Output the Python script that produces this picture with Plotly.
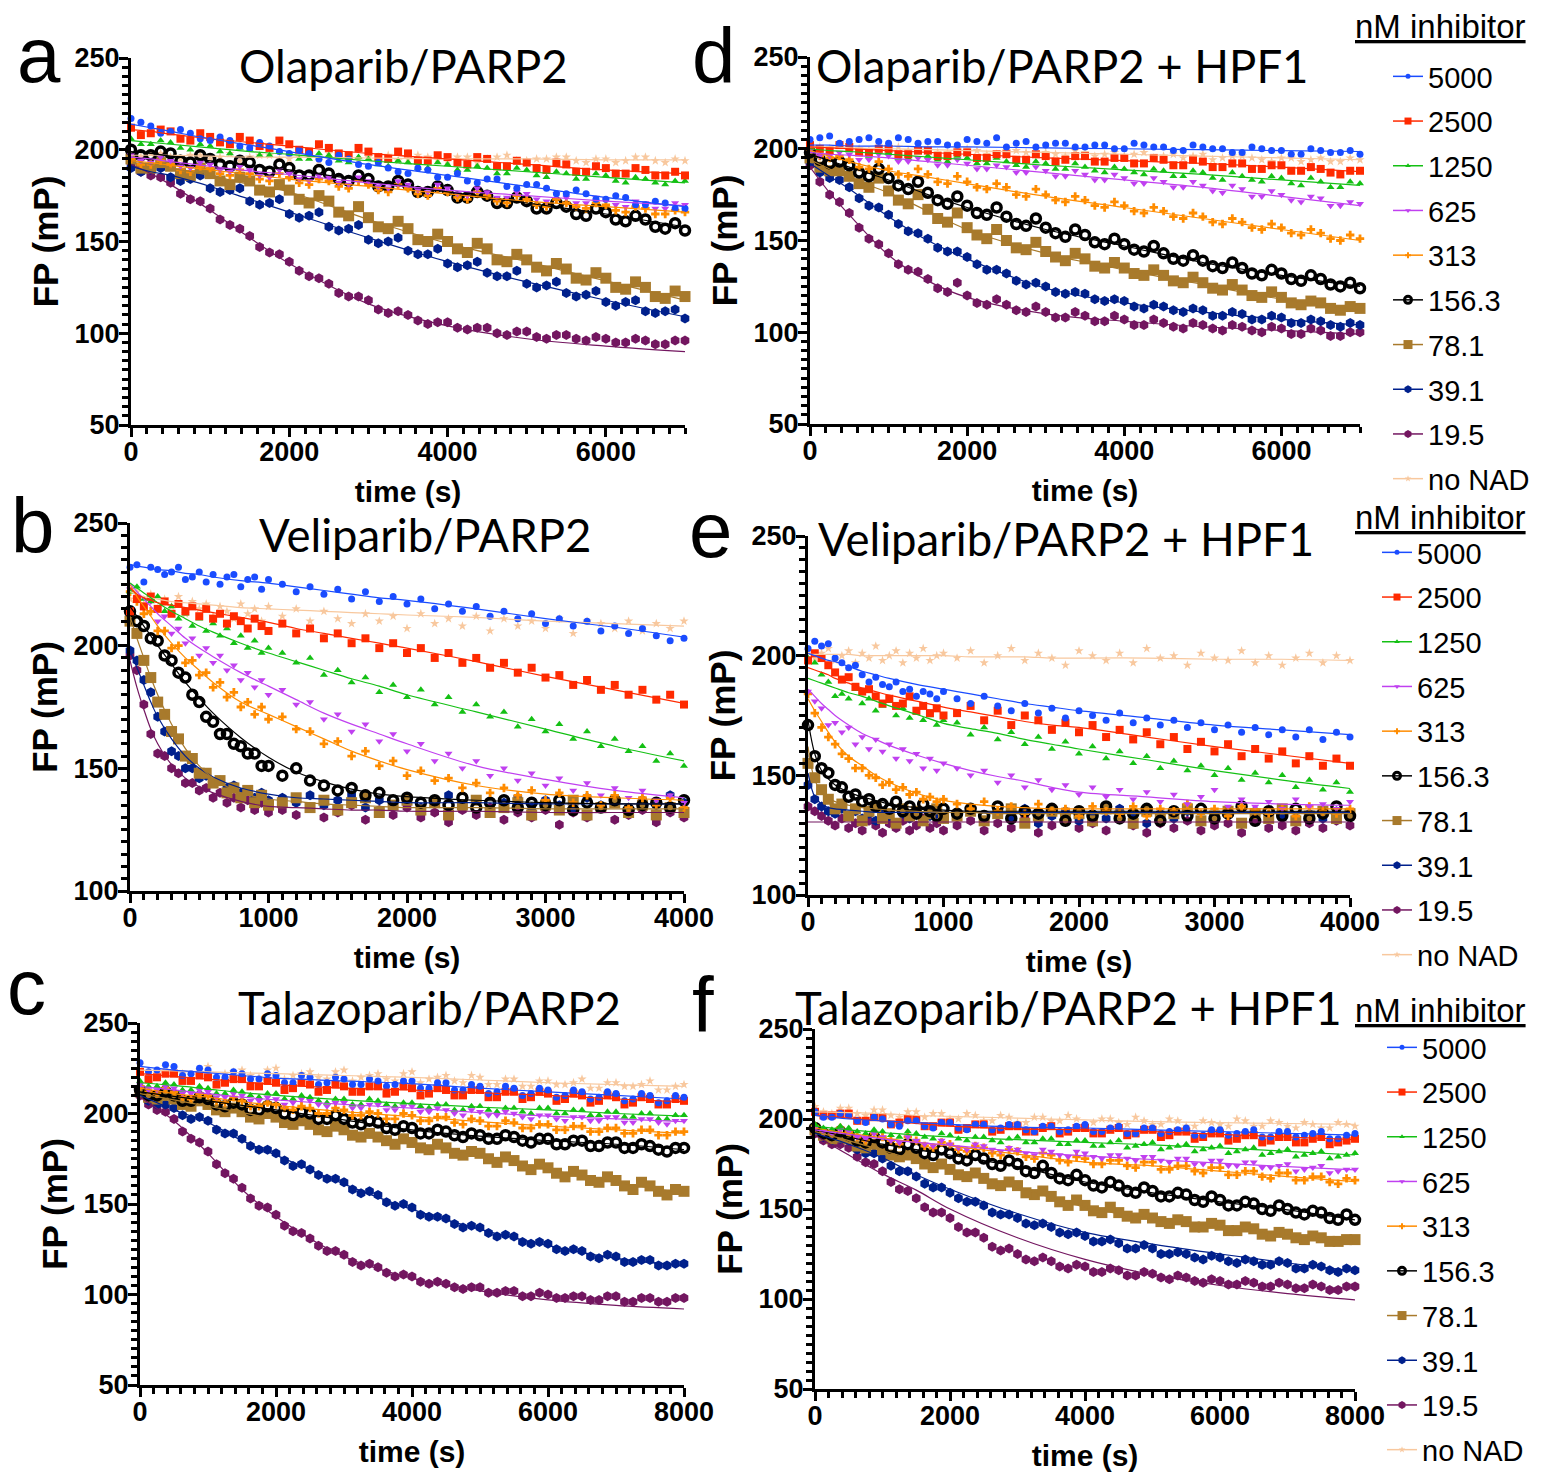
import plotly.graph_objects as go

# page is drawn with an 8 px body margin; keep the figure inside the window
OFF = 8
W, H = 1551 - OFF, 1479 - OFF

labels = ["5000", "2500", "1250", "625", "313", "156.3", "78.1", "39.1", "19.5", "no NAD"]

# sampling times (s)
t_ad = [0, 250, 500, 750, 1000, 1250, 1500, 1750, 2000, 2250, 2500, 2750, 3000, 3250, 3500,
        3750, 4000, 4250, 4500, 4750, 5000, 5250, 5500, 5750, 6000, 6250, 6500, 6750, 7000]
t_ad_mid = [125, 375, 625, 875, 1125, 1375, 1625, 1875, 2125, 2375, 2625, 2875, 3125, 3375,
            3625, 3875, 4125, 4375, 4625, 4875, 5125, 5375, 5625, 5875, 6125, 6375, 6625, 6875]
t_be = [0, 50, 100, 150, 200, 250, 300, 350, 400, 450, 500, 550, 600, 650, 700, 750, 800, 850,
        900, 950, 1000, 1100, 1200, 1300, 1400, 1500, 1600, 1700, 1800, 1900, 2000, 2100, 2200,
        2300, 2400, 2500, 2600, 2700, 2800, 2900, 3000, 3100, 3200, 3300, 3400, 3500, 3600, 3700,
        3800, 3900, 4000]
t_cf = [0, 250, 500, 750, 1000, 1250, 1500, 1750, 2000, 2250, 2500, 2750, 3000, 3250, 3500,
        3750, 4000, 4250, 4500, 4750, 5000, 5250, 5500, 5750, 6000, 6250, 6500, 6750, 7000,
        7250, 7500, 7750, 8000]
t_cf_mid = [125, 375, 625, 875, 1125, 1375, 1625, 1875, 2125, 2375, 2625, 2875, 3125, 3375,
            3625, 3875, 4125, 4375, 4625, 4875, 5125, 5375, 5625, 5875, 6125, 6375, 6625, 6875,
            7125, 7375, 7625, 7875]
tf_ad = [0, 250, 500, 1000, 1500, 2000, 3000, 4000, 5000, 6000, 7000]
tf_be = [0, 50, 100, 150, 200, 300, 400, 500, 600, 800, 1000, 1200, 1400, 1600, 1800, 2000,
         2500, 3000, 3500, 4000]
tf_cf = [0, 500, 1000, 1500, 2000, 3000, 4000, 5000, 6000, 7000, 8000]

# a  Olaparib/PARP2
pts_a = {
    "5000": [217, 213, 210, 209, 205, 205, 201, 202, 198, 198, 193, 195, 191, 190, 187, 189, 185, 183, 184, 180, 181, 179, 176, 176, 173, 174, 170, 171, 168],
    "2500": [212, 209, 210, 205, 207, 203, 205, 201, 203, 199, 201, 197, 199, 195, 198, 194, 196, 192, 195, 191, 193, 189, 192, 188, 190, 187, 189, 186, 186],
    "1250": [206, 203, 204, 200, 202, 198, 200, 197, 198, 195, 197, 193, 195, 191, 193, 190, 192, 189, 190, 187, 189, 185, 187, 184, 186, 182, 184, 181, 183],
    "625": [197, 193, 194, 190, 192, 188, 189, 185, 187, 183, 185, 181, 183, 179, 181, 177, 179, 175, 177, 174, 176, 172, 174, 171, 173, 169, 171, 168, 170],
    "313": [195, 192, 192, 188, 190, 186, 187, 183, 185, 181, 183, 179, 181, 177, 179, 175, 177, 173, 175, 171, 173, 169, 171, 168, 170, 166, 168, 165, 166],
    "156.3": [200, 197, 198, 193, 195, 191, 193, 188, 190, 186, 187, 183, 184, 180, 181, 177, 178, 174, 175, 171, 172, 168, 169, 164, 166, 161, 162, 157, 156],
    "78.1": [195, 190, 191, 186, 187, 181, 183, 177, 178, 171, 172, 164, 163, 157, 157, 150, 150, 144, 146, 139, 140, 134, 135, 129, 130, 124, 125, 119, 120],
    "39.1": [190, 189, 185, 184, 179, 178, 172, 171, 165, 164, 158, 157, 151, 150, 145, 143, 138, 137, 133, 131, 127, 126, 122, 121, 117, 117, 112, 112, 108],
    "19.5": [193, 186, 182, 173, 168, 159, 153, 144, 139, 131, 127, 120, 118, 111, 110, 105, 106, 102, 103, 99, 101, 97, 99, 96, 97, 95, 96, 94, 96],
    "no NAD": [197, 198, 196, 197, 195, 198, 196, 197, 195, 196, 198, 195, 196, 197, 195, 196, 194, 196, 195, 197, 194, 195, 196, 193, 195, 194, 196, 193, 194],
}
mid_a = {
    "5000": [215, 209, 211, 206, 207, 202, 204, 199, 200, 195, 197, 192, 193, 188, 190, 185, 187, 182, 184, 179, 181, 176, 178, 173, 175, 170, 172, 168],
    "2500": [208, 211, 206, 209, 204, 207, 202, 205, 200, 203, 198, 201, 196, 199, 194, 197, 193, 196, 191, 194, 190, 193, 188, 191, 187, 190, 186, 188],
    "1250": [203, 205, 201, 203, 199, 201, 197, 199, 195, 198, 194, 196, 192, 194, 190, 193, 189, 191, 187, 190, 186, 188, 184, 187, 183, 185, 182, 183],
    "625": [194, 196, 191, 193, 189, 191, 186, 189, 184, 186, 182, 185, 180, 183, 178, 181, 176, 179, 174, 177, 173, 176, 171, 174, 170, 172, 168, 171],
    "313": [192, 194, 189, 191, 187, 189, 184, 187, 182, 184, 180, 183, 178, 181, 176, 179, 174, 177, 172, 175, 170, 173, 169, 171, 167, 169, 165, 167],
    "156.3": [197, 199, 194, 197, 192, 194, 189, 192, 186, 189, 184, 186, 180, 183, 177, 180, 174, 177, 171, 174, 168, 171, 165, 168, 162, 164, 158, 160],
    "78.1": [190, 193, 187, 190, 183, 185, 178, 181, 173, 175, 166, 169, 158, 161, 151, 154, 146, 149, 140, 143, 136, 138, 130, 133, 125, 128, 120, 123],
    "39.1": [188, 190, 183, 186, 177, 179, 170, 173, 163, 166, 156, 159, 149, 152, 143, 146, 136, 139, 131, 134, 125, 128, 120, 123, 115, 118, 111, 113],
    "19.5": [188, 185, 176, 172, 162, 157, 147, 143, 134, 130, 122, 120, 113, 112, 107, 106, 103, 103, 100, 101, 98, 99, 97, 98, 95, 97, 94, 96],
    "no NAD": [196, 198, 195, 197, 196, 194, 197, 195, 196, 194, 197, 195, 196, 194, 197, 195, 196, 193, 196, 194, 195, 196, 194, 195, 193, 196, 194, 195],
}
fit_a = {
    "5000": [214, 212, 210, 206, 202.5, 199, 192, 186, 180, 174, 169],
    "2500": [211, 210, 208.5, 206, 204, 202, 198, 195, 192, 189, 187],
    "1250": [205, 204, 203, 201, 199, 197.5, 194, 191, 188, 185, 182],
    "625": [196, 195, 193.5, 191, 188.5, 186.5, 182, 178, 175, 172, 169.5],
    "313": [194, 193, 191.5, 189, 186.5, 184, 180, 176, 172, 169, 166],
    "156.3": [199, 198, 196.5, 194, 191.5, 189, 183, 177, 171, 165, 158],
    "78.1": [194, 192, 190, 186, 181, 177, 162, 149, 139, 128.5, 118],
    "39.1": [191, 188, 186, 180, 173, 166, 152, 139, 128, 118, 109],
    "19.5": [192, 187, 181, 167, 152, 138, 116, 104, 97, 93, 90],
    "no NAD": [197, 197, 197, 196.5, 196, 196, 195.5, 195, 195, 194.5, 194.5],
}

# b  Veliparib/PARP2
pts_b = {
    "5000": [232, 233, 226, 232, 231, 229, 230, 232, 227, 228, 230, 226, 229, 225, 228, 229, 224, 227, 228, 223, 227,
             225, 222, 224, 221, 223, 219, 222, 218, 220, 217, 219, 215, 217, 214, 216, 212, 214, 211, 213, 209, 211, 208, 210, 206, 208, 205, 207, 204, 202, 203],
    "2500": [214, 219, 216, 220, 215, 218, 213, 217, 214, 216, 212, 215, 211, 213, 209, 212, 210, 207, 211, 208, 206,
             209, 205, 207, 203, 205, 201, 203, 199, 201, 197, 199, 195, 197, 193, 195, 191, 193, 189, 191, 187, 188, 184, 186, 182, 184, 180, 182, 178, 180, 176],
    "1250": [222, 224, 219, 218, 220, 214, 216, 211, 213, 208, 211, 206, 209, 204, 207, 201, 204, 199, 202, 197, 199,
             197, 193, 195, 188, 190, 185, 187, 181, 184, 179, 182, 176, 179, 173, 176, 171, 173, 167, 170, 165, 168, 162, 165, 159, 162, 157, 159, 153, 156, 151],
    "625": [223, 220, 216, 218, 210, 212, 205, 207, 201, 203, 196, 199, 193, 196, 190, 192, 186, 189, 183, 186, 180,
            182, 176, 177, 170, 172, 165, 168, 161, 164, 157, 160, 153, 156, 150, 153, 147, 150, 145, 148, 143, 146, 141, 144, 139, 142, 138, 141, 137, 139, 136],
    "313": [222, 218, 213, 214, 206, 206, 199, 200, 193, 194, 188, 189, 183, 185, 179, 181, 175, 177, 172, 175, 170,
            171, 166, 165, 160, 161, 155, 157, 151, 153, 147, 149, 145, 146, 142, 144, 140, 142, 139, 141, 137, 140, 136, 139, 135, 139, 134, 138, 135, 138, 134],
    "156.3": [214, 210, 208, 203, 202, 196, 194, 189, 187, 180, 177, 171, 169, 164, 164, 160, 159, 156, 156, 151, 151,
              147, 150, 145, 143, 141, 142, 139, 140, 137, 138, 136, 137, 135, 138, 134, 136, 137, 134, 136, 135, 137, 133, 136, 134, 137, 133, 135, 136, 134, 137],
    "78.1": [210, 205, 194, 187, 177, 172, 165, 162, 155, 154, 148, 148, 144, 145, 140, 142, 138, 141, 136, 139, 135,
             136, 138, 134, 137, 133, 136, 138, 132, 135, 137, 133, 136, 131, 135, 137, 132, 134, 136, 131, 135, 133, 137, 131, 134, 136, 132, 135, 131, 134, 132],
    "39.1": [198, 194, 186, 181, 171, 165, 157, 155, 150, 150, 146, 147, 144, 145, 142, 143, 140, 141, 138, 140, 137,
             138, 136, 139, 135, 137, 139, 134, 137, 135, 138, 134, 136, 139, 135, 137, 133, 136, 138, 134, 137, 135, 133, 138, 135, 136, 134, 137, 135, 139, 136],
    "19.5": [196, 190, 176, 164, 156, 155, 150, 148, 144, 144, 141, 142, 138, 140, 136, 138, 134, 137, 133, 136, 132,
             133, 131, 134, 130, 132, 135, 129, 133, 131, 134, 130, 132, 128, 133, 131, 134, 129, 132, 130, 133, 127, 132, 130, 134, 129, 131, 133, 128, 132, 130],
    "no NAD": [219, 222, 217, 221, 215, 219, 216, 220, 213, 218, 215, 217, 212, 216, 214, 211, 217, 213, 215, 210, 216,
               212, 215, 210, 214, 211, 209, 213, 210, 212, 207, 213, 209, 211, 208, 212, 206, 211, 208, 210, 207, 211, 205, 210, 209, 207, 210, 206, 209, 207, 210],
}
fit_b = {
    "5000": [233, 232.5, 232, 231.5, 231, 230.5, 229.5, 229, 228, 226.5, 225.5, 224, 222.5, 221, 219.5, 218.5, 215, 211, 207.5, 203.5],
    "2500": [223.5, 221, 219.5, 218.5, 217.5, 216.5, 215.5, 214.5, 213.5, 211.5, 209.5, 207, 205, 203, 201, 199, 193.5, 187.5, 182, 176.5],
    "1250": [225.5, 223.5, 221.5, 219.5, 217.5, 214, 211, 208, 205.5, 201, 197, 193.5, 190, 186.5, 183.5, 180, 173, 166, 159, 153],
    "625": [225.5, 222, 219, 216, 213, 208, 203, 199, 195.5, 189, 183.5, 178, 172.5, 168, 164, 160, 151, 145.5, 141, 138],
    "313": [225, 220, 216, 212, 208, 201, 195, 190, 185, 177, 172, 167, 162, 157, 153, 149.5, 143, 139.5, 138, 137],
    "156.3": [216, 212, 208, 204, 200, 192.5, 185, 178.5, 172.5, 162.5, 154.5, 148.5, 144.5, 141.5, 139.5, 138.5, 137, 136, 135.5, 135.5],
    "78.1": [212, 203, 195, 187, 180, 168, 158, 151, 146, 140, 137.5, 136.5, 135.5, 135, 134.5, 134, 134, 133.5, 133.5, 133.5],
    "39.1": [198, 191, 184, 177, 171, 162, 155, 150, 146.5, 142, 139.5, 138, 137.5, 137, 136.5, 136, 136, 135.5, 135.5, 135.5],
    "19.5": [194, 183, 174, 166, 160, 151.5, 146, 142.5, 140, 136.5, 134.5, 134, 133.5, 133, 133, 132.5, 132.5, 132, 132, 132],
    "no NAD": [222, 221, 220, 219.5, 219, 218, 217.5, 217, 216.5, 215.5, 215, 214.5, 214, 213.5, 213, 212.5, 211.5, 210, 209, 208],
}

# c  Talazoparib/PARP2
pts_c = {
    "5000": [228, 224, 226, 222, 224, 220, 222, 219, 221, 217, 220, 217, 219, 216, 218, 216, 218, 214, 217, 213, 215, 212, 214, 211, 213, 210, 212, 209, 211, 208, 210, 207, 209],
    "2500": [223, 220, 222, 218, 220, 217, 219, 215, 217, 214, 216, 213, 215, 212, 215, 212, 214, 211, 213, 210, 213, 209, 212, 209, 211, 208, 210, 207, 209, 206, 208, 205, 207],
    "1250": [218, 215, 216, 213, 214, 211, 212, 209, 211, 208, 209, 206, 208, 205, 207, 204, 206, 203, 205, 202, 204, 201, 203, 200, 203, 200, 202, 199, 201, 198, 200, 197, 199],
    "625": [216, 213, 214, 211, 212, 209, 210, 207, 208, 206, 207, 204, 206, 203, 205, 202, 204, 201, 202, 199, 201, 199, 200, 197, 199, 196, 198, 196, 198, 195, 197, 194, 196],
    "313": [215, 211, 212, 208, 210, 206, 207, 204, 205, 202, 203, 200, 202, 199, 200, 197, 199, 196, 198, 194, 196, 193, 195, 192, 194, 191, 193, 190, 192, 189, 191, 188, 190],
    "156.3": [213, 210, 210, 207, 208, 204, 205, 202, 203, 199, 200, 197, 197, 194, 195, 191, 192, 189, 190, 187, 188, 186, 187, 184, 186, 183, 185, 182, 184, 181, 182, 179, 181],
    "78.1": [212, 208, 208, 204, 205, 201, 201, 197, 198, 194, 194, 190, 191, 187, 187, 183, 184, 180, 181, 177, 178, 173, 174, 169, 170, 165, 166, 162, 163, 158, 160, 155, 157],
    "39.1": [211, 205, 203, 197, 196, 189, 186, 180, 178, 171, 169, 164, 162, 156, 155, 149, 148, 143, 142, 137, 137, 132, 132, 128, 128, 124, 124, 120, 121, 118, 119, 116, 117],
    "19.5": [210, 202, 197, 186, 179, 167, 159, 149, 144, 135, 131, 124, 122, 116, 115, 110, 110, 106, 106, 103, 104, 101, 102, 99, 100, 98, 99, 97, 99, 96, 98, 96, 98],
    "no NAD": [227, 222, 225, 221, 226, 222, 224, 220, 225, 221, 223, 219, 224, 220, 222, 218, 223, 219, 221, 217, 220, 216, 219, 215, 218, 216, 219, 214, 217, 215, 218, 213, 216],
}
mid_c = {
    "5000": [223, 227, 221, 225, 220, 223, 219, 222, 217, 221, 216, 220, 216, 219, 215, 218, 214, 217, 213, 216, 211, 215, 210, 214, 209, 213, 208, 212, 207, 211, 206, 210],
    "2500": [219, 222, 218, 221, 216, 219, 215, 218, 213, 217, 212, 216, 212, 215, 211, 215, 210, 214, 210, 213, 209, 212, 208, 212, 207, 211, 206, 210, 205, 209, 205, 208],
    "1250": [215, 217, 213, 215, 211, 213, 210, 211, 208, 210, 207, 208, 205, 208, 205, 206, 204, 205, 202, 204, 202, 203, 201, 203, 200, 202, 199, 201, 198, 200, 197, 199],
    "625": [213, 215, 211, 213, 209, 211, 207, 209, 205, 208, 205, 206, 203, 205, 202, 204, 201, 203, 200, 202, 199, 201, 198, 199, 197, 198, 196, 198, 195, 197, 195, 196],
    "313": [212, 214, 209, 211, 207, 209, 204, 206, 203, 204, 200, 203, 199, 201, 197, 200, 196, 198, 195, 197, 193, 196, 192, 194, 191, 193, 190, 192, 189, 191, 188, 190],
    "156.3": [210, 212, 207, 209, 205, 206, 202, 204, 200, 201, 197, 199, 195, 196, 192, 193, 189, 191, 188, 189, 186, 188, 185, 186, 183, 185, 182, 184, 181, 183, 180, 181],
    "78.1": [209, 210, 205, 207, 202, 203, 198, 200, 195, 196, 191, 193, 188, 189, 185, 186, 181, 183, 178, 179, 175, 176, 171, 172, 167, 168, 163, 165, 160, 162, 157, 158],
    "39.1": [207, 205, 199, 198, 191, 189, 182, 180, 174, 172, 166, 164, 158, 157, 151, 150, 144, 143, 139, 138, 134, 133, 129, 129, 125, 125, 121, 122, 118, 119, 116, 117],
    "19.5": [205, 201, 190, 184, 172, 164, 153, 148, 138, 134, 127, 124, 118, 117, 112, 111, 107, 107, 104, 104, 101, 102, 99, 101, 98, 99, 97, 99, 96, 98, 96, 98],
    "no NAD": [223, 226, 222, 224, 220, 223, 221, 224, 219, 222, 220, 223, 218, 221, 219, 222, 217, 220, 218, 221, 216, 219, 215, 218, 216, 217, 214, 217, 215, 216, 213, 215],
}
fit_c = {
    "5000": [226, 224, 222.5, 221, 219.5, 218, 216.5, 214, 212, 210, 208],
    "2500": [222, 220.5, 219, 217.5, 216, 214, 213, 211.5, 210, 208, 206.5],
    "1250": [217, 215.5, 213.5, 211.5, 210, 207.5, 205.5, 203.5, 202, 200, 198.5],
    "625": [215, 213, 211, 209, 207.5, 205, 203, 200.5, 198.5, 197, 195.5],
    "313": [214, 211, 209, 206.5, 204.5, 201, 198.3, 195.5, 193, 191, 189],
    "156.3": [212, 209.5, 207, 204.5, 202, 196.5, 191, 187.5, 185, 183, 180],
    "78.1": [211, 207.5, 204, 200.5, 197, 190, 183.5, 177, 169, 162, 156],
    "39.1": [210, 202, 195, 185, 177, 161, 147, 136, 127, 120, 116],
    "19.5": [209, 196, 178, 158, 143, 121, 109, 102, 97, 94, 92],
    "no NAD": [224, 223.5, 223, 222.5, 222, 221, 220, 218.5, 217, 216, 215],
}

# d  Olaparib/PARP2 + HPF1
pts_d = {
    "5000": [205, 207, 204, 206, 203, 205, 204, 202, 205, 203, 201, 204, 202, 203, 201, 202, 200, 202, 201, 199, 201, 200, 198, 200, 199, 197, 199, 198, 197],
    "2500": [202, 199, 201, 198, 200, 197, 199, 196, 198, 195, 197, 194, 196, 194, 196, 193, 195, 192, 194, 191, 193, 190, 192, 189, 191, 188, 189, 186, 188],
    "1250": [201, 198, 199, 196, 198, 195, 196, 193, 195, 192, 193, 190, 192, 189, 190, 187, 189, 186, 188, 185, 187, 183, 185, 182, 184, 180, 182, 179, 181],
    "625": [199, 196, 197, 194, 196, 193, 194, 191, 192, 189, 190, 187, 188, 185, 186, 183, 184, 181, 182, 179, 180, 176, 178, 174, 175, 171, 173, 169, 170],
    "313": [200, 195, 194, 189, 189, 185, 186, 181, 182, 178, 179, 174, 175, 171, 172, 168, 169, 165, 166, 162, 163, 159, 160, 156, 157, 153, 154, 150, 151],
    "156.3": [198, 192, 191, 185, 184, 178, 176, 170, 169, 164, 163, 158, 157, 152, 153, 148, 148, 144, 143, 139, 139, 135, 135, 131, 132, 128, 129, 125, 124],
    "78.1": [195, 188, 185, 179, 177, 170, 167, 160, 157, 151, 150, 145, 144, 139, 140, 135, 135, 131, 131, 127, 127, 123, 123, 119, 119, 115, 116, 112, 113],
    "39.1": [193, 184, 179, 169, 164, 155, 151, 144, 141, 134, 132, 126, 125, 121, 121, 117, 117, 113, 114, 111, 112, 109, 110, 107, 108, 105, 106, 103, 104],
    "19.5": [191, 175, 165, 151, 143, 134, 129, 122, 120, 115, 115, 111, 111, 108, 109, 106, 107, 104, 105, 102, 104, 101, 103, 100, 102, 99, 101, 98, 100],
    "no NAD": [202, 200, 201, 199, 201, 199, 200, 198, 200, 197, 199, 198, 198, 196, 198, 197, 196, 198, 196, 195, 197, 195, 196, 194, 195, 193, 195, 193, 194],
}
mid_d = {
    "5000": [206, 203, 205, 204, 206, 203, 204, 202, 204, 206, 203, 201, 203, 201, 202, 200, 203, 201, 199, 202, 200, 198, 201, 199, 197, 200, 198, 199],
    "2500": [200, 202, 198, 200, 197, 199, 196, 198, 195, 197, 194, 197, 193, 196, 193, 195, 192, 195, 191, 194, 190, 192, 189, 191, 188, 190, 187, 188],
    "1250": [199, 201, 197, 199, 195, 198, 194, 196, 192, 195, 191, 193, 189, 192, 188, 190, 187, 189, 185, 188, 184, 187, 183, 185, 181, 184, 179, 182],
    "625": [196, 198, 194, 197, 193, 195, 191, 194, 189, 191, 187, 190, 185, 188, 183, 186, 181, 184, 179, 182, 177, 180, 174, 177, 172, 174, 169, 171],
    "313": [196, 196, 190, 193, 186, 189, 182, 185, 179, 181, 175, 178, 172, 174, 169, 171, 166, 168, 163, 165, 160, 162, 157, 159, 154, 156, 151, 153],
    "156.3": [194, 193, 187, 189, 180, 182, 172, 174, 165, 168, 159, 162, 154, 156, 149, 151, 145, 147, 140, 142, 136, 138, 132, 134, 129, 131, 126, 127],
    "78.1": [190, 188, 181, 184, 172, 175, 162, 165, 153, 156, 146, 149, 141, 143, 136, 138, 132, 134, 128, 130, 124, 126, 120, 122, 116, 117, 113, 114],
    "39.1": [187, 183, 173, 168, 159, 154, 146, 144, 137, 134, 128, 127, 122, 122, 118, 118, 114, 115, 112, 113, 109, 111, 107, 109, 105, 107, 104, 105],
    "19.5": [182, 171, 157, 148, 137, 133, 124, 127, 116, 118, 112, 114, 108, 111, 106, 109, 104, 107, 103, 105, 102, 104, 101, 103, 99, 102, 98, 100],
    "no NAD": [201, 202, 200, 199, 201, 200, 198, 200, 199, 197, 199, 198, 197, 199, 196, 198, 197, 195, 197, 196, 194, 196, 195, 193, 195, 194, 193, 195],
}
fit_d = {
    "5000": [202, 202, 201.5, 201.5, 201, 201, 200.5, 200, 199.5, 199, 198.5],
    "2500": [201, 200.5, 200, 199, 198, 197, 195, 193.5, 192, 190, 187.5],
    "1250": [200, 199, 198.5, 197, 195.5, 194, 191, 188.5, 186, 183, 180],
    "625": [198, 197, 196.5, 195, 193, 191, 187, 183, 179, 174, 169],
    "313": [199, 196, 193, 188, 184.5, 181, 174, 168, 162, 156, 150],
    "156.3": [197, 193.5, 190, 183, 175, 168, 156, 147, 138, 131, 125],
    "78.1": [194, 189, 184, 176, 166, 156, 143, 134, 126, 118, 112],
    "39.1": [192, 185, 178, 163, 150, 140, 124, 116, 111, 107, 104],
    "19.5": [190, 176, 164, 142, 128, 119, 110, 106, 103, 101, 99],
    "no NAD": [201, 201, 200.5, 200, 199.5, 199, 198, 197, 196, 195, 194],
}

# e  Veliparib/PARP2 + HPF1
pts_e = {
    "5000": [203, 206, 204, 205, 199, 197, 195, 196, 192, 189, 191, 188, 187, 189, 185, 186, 183, 185, 184, 182, 185,
             182, 180, 183, 179, 177, 180, 176, 178, 174, 177, 175, 173, 176, 172, 174, 171, 173, 170, 172, 169, 171, 168, 170, 167, 169, 166, 169, 165, 168, 166],
    "2500": [198, 201, 199, 196, 193, 190, 191, 187, 185, 186, 183, 180, 182, 179, 180, 183, 177, 179, 176, 178, 175,
             176, 179, 173, 177, 171, 175, 173, 169, 172, 168, 171, 166, 169, 165, 168, 163, 166, 161, 164, 160, 163, 158, 161, 157, 160, 155, 158, 154, 157, 154],
    "1250": [199, 197, 192, 189, 183, 184, 182, 186, 180, 182, 177, 179, 181, 175, 178, 174, 176, 173, 175, 171, 173,
             172, 167, 170, 165, 168, 163, 166, 161, 164, 159, 162, 157, 160, 155, 158, 153, 156, 152, 154, 150, 153, 148, 151, 147, 150, 145, 148, 144, 147, 143],
    "625": [185, 181, 178, 171, 172, 168, 170, 163, 166, 161, 165, 160, 163, 157, 161, 156, 159, 153, 157, 152, 155,
            153, 150, 152, 147, 150, 145, 148, 144, 146, 142, 145, 141, 144, 140, 143, 139, 142, 138, 141, 144, 137, 140, 137, 139, 136, 140, 137, 138, 136, 139],
    "313": [184, 176, 170, 166, 163, 159, 157, 153, 153, 150, 149, 146, 147, 144, 145, 142, 143, 140, 141, 139, 140,
            138, 136, 139, 135, 137, 134, 138, 135, 136, 133, 137, 135, 134, 137, 133, 136, 135, 138, 134, 136, 133, 137, 135, 134, 136, 133, 137, 135, 134, 136],
    "156.3": [171, 158, 153, 151, 146, 145, 141, 142, 139, 140, 137, 138, 136, 139, 135, 137, 134, 138, 135, 133, 136,
              134, 136, 133, 137, 132, 135, 134, 136, 131, 135, 133, 137, 132, 134, 136, 131, 135, 133, 136, 132, 134, 137, 131, 135, 133, 136, 132, 134, 137, 133],
    "78.1": [155, 149, 144, 140, 136, 138, 133, 136, 131, 135, 137, 132, 134, 130, 136, 133, 135, 131, 134, 136, 132,
             133, 135, 131, 134, 136, 130, 133, 135, 132, 134, 131, 136, 133, 130, 135, 132, 134, 136, 131, 133, 135, 130, 134, 132, 136, 131, 133, 135, 132, 134],
    "39.1": [146, 140, 137, 135, 134, 136, 133, 135, 132, 134, 131, 135, 133, 130, 134, 132, 135, 131, 133, 134, 132,
             133, 135, 131, 134, 132, 136, 130, 133, 135, 131, 134, 132, 136, 133, 130, 134, 132, 135, 131, 133, 134, 130, 135, 132, 133, 131, 134, 132, 135, 133],
    "19.5": [137, 135, 133, 131, 129, 132, 128, 130, 127, 131, 129, 126, 130, 128, 131, 127, 129, 132, 128, 130, 127,
             129, 131, 127, 130, 128, 132, 126, 129, 131, 128, 130, 127, 132, 129, 126, 130, 128, 131, 127, 129, 130, 126, 131, 128, 129, 127, 130, 128, 131, 129],
    "no NAD": [202, 199, 201, 203, 198, 200, 202, 197, 201, 199, 204, 198, 200, 202, 197, 201, 199, 203, 198, 200, 201,
               199, 202, 197, 200, 203, 198, 201, 199, 196, 202, 200, 198, 201, 197, 203, 199, 200, 196, 201, 199, 198, 202, 197, 200, 196, 199, 201, 197, 200, 198],
}
fit_e = {
    "5000": [201, 200, 199, 198, 197.5, 195.5, 193.5, 192, 190.5, 188, 186, 184, 182, 180, 178.5, 177, 174, 171, 169, 167],
    "2500": [195, 194, 193, 192, 190.5, 188.5, 186.5, 185, 183.5, 181, 178.5, 176.5, 174.5, 172.5, 171, 170, 166, 162, 158.5, 155],
    "1250": [190.5, 189.5, 188.5, 187.5, 186.5, 184.5, 183, 181, 179, 175.5, 171.7, 169.5, 167.5, 165, 163, 161, 156.5, 152, 148, 144.5],
    "625": [186, 183, 180, 177.5, 175, 171, 167.5, 165, 162.5, 158.5, 155, 152, 149.5, 147.5, 145, 143, 141, 139, 138, 137.5],
    "313": [182, 177, 172.5, 168, 164, 158, 154, 150, 147, 142.5, 139.5, 138, 137, 136.5, 136, 136, 136, 136, 136, 136],
    "156.3": [173, 159, 152, 148.5, 146, 143, 141, 139.5, 138, 136.5, 135.5, 135, 135, 135, 135, 135, 135, 135, 135, 135],
    "78.1": [162, 148, 143, 140.5, 139, 137.5, 136.5, 136, 135.5, 135, 134.5, 134.5, 134, 134, 134, 134, 134, 134, 134, 134],
    "39.1": [151, 141, 138, 136.5, 136, 135.5, 135, 134.5, 134.5, 134.5, 134.5, 134.5, 134.5, 134.5, 134.5, 134.5, 134.5, 134.5, 134.5, 134.5],
    "19.5": [130.5, 130.5, 130.5, 130.5, 130.5, 130.5, 130.5, 130.5, 130.5, 130.5, 130.5, 130.5, 130.5, 130.5, 130.5, 130.5, 130.5, 130.5, 130.5, 130.5],
    "no NAD": [200.5, 200.5, 200.5, 200.5, 200.5, 200.5, 200, 200, 200, 200, 200, 199.5, 199.5, 199.5, 199, 199, 199, 198.5, 198.5, 198],
}

# f  Talazoparib/PARP2 + HPF1
pts_f = {
    "5000": [204, 201, 202, 198, 200, 196, 199, 195, 198, 194, 197, 195, 197, 193, 196, 194, 197, 193, 196, 192, 195, 193, 195, 191, 194, 192, 194, 190, 193, 191, 193, 189, 192],
    "2500": [204, 202, 203, 199, 201, 198, 200, 196, 198, 195, 197, 194, 196, 193, 196, 193, 195, 192, 195, 192, 194, 191, 193, 190, 192, 189, 191, 188, 190, 187, 190, 187, 189],
    "1250": [197, 194, 195, 192, 193, 190, 192, 189, 191, 188, 190, 187, 190, 187, 189, 186, 188, 185, 188, 185, 187, 184, 186, 183, 185, 182, 184, 181, 183, 180, 182, 179, 181],
    "625": [195, 192, 193, 189, 190, 187, 188, 185, 186, 183, 185, 182, 183, 180, 182, 179, 181, 178, 180, 177, 179, 176, 178, 175, 177, 174, 176, 173, 175, 172, 174, 171, 172],
    "313": [196, 192, 193, 188, 190, 186, 188, 184, 186, 182, 184, 180, 182, 178, 180, 176, 178, 175, 177, 173, 176, 172, 174, 170, 173, 169, 171, 167, 170, 166, 168, 164, 166],
    "156.3": [195, 191, 191, 187, 187, 183, 184, 180, 181, 177, 178, 174, 175, 170, 170, 166, 166, 162, 163, 159, 160, 157, 158, 154, 155, 152, 153, 149, 150, 147, 148, 144, 144],
    "78.1": [194, 189, 189, 184, 183, 179, 178, 173, 172, 168, 167, 163, 163, 158, 157, 152, 152, 148, 148, 145, 145, 142, 143, 140, 141, 138, 139, 135, 136, 133, 134, 132, 133],
    "39.1": [193, 188, 188, 181, 178, 171, 168, 162, 159, 154, 152, 147, 145, 141, 140, 136, 135, 132, 131, 128, 128, 125, 125, 122, 123, 120, 121, 119, 120, 117, 118, 115, 116],
    "19.5": [192, 186, 184, 176, 171, 161, 156, 148, 145, 137, 134, 127, 125, 121, 121, 117, 118, 115, 116, 113, 114, 111, 112, 109, 110, 108, 109, 107, 108, 106, 107, 105, 107],
    "no NAD": [207, 203, 206, 202, 205, 201, 204, 203, 200, 203, 199, 202, 198, 201, 199, 202, 197, 200, 198, 201, 197, 200, 196, 199, 197, 200, 196, 199, 196, 198, 195, 198, 196],
}
mid_f = {
    "5000": [201, 203, 199, 201, 197, 199, 196, 198, 195, 197, 194, 197, 194, 196, 193, 196, 193, 195, 192, 195, 192, 194, 191, 194, 191, 193, 190, 193, 190, 192, 189, 191],
    "2500": [202, 203, 199, 201, 197, 200, 196, 198, 194, 197, 193, 196, 193, 195, 192, 195, 192, 194, 191, 194, 190, 193, 189, 192, 188, 191, 187, 190, 187, 189, 186, 188],
    "1250": [195, 196, 193, 194, 191, 193, 190, 192, 189, 190, 188, 189, 187, 189, 186, 188, 185, 187, 184, 186, 183, 185, 182, 184, 181, 183, 180, 182, 179, 181, 178, 180],
    "625": [193, 194, 190, 192, 188, 190, 186, 188, 184, 186, 183, 184, 181, 183, 180, 182, 179, 180, 178, 179, 177, 178, 175, 177, 174, 176, 173, 174, 171, 173, 170, 172],
    "313": [193, 195, 190, 192, 188, 190, 185, 187, 183, 185, 181, 183, 179, 181, 177, 179, 175, 177, 174, 176, 172, 174, 171, 173, 169, 171, 168, 170, 166, 168, 165, 167],
    "156.3": [192, 193, 188, 190, 184, 186, 181, 183, 178, 180, 175, 177, 171, 174, 167, 169, 163, 165, 160, 162, 157, 159, 155, 157, 152, 154, 150, 152, 148, 149, 145, 147],
    "78.1": [191, 190, 185, 186, 180, 180, 175, 175, 169, 170, 164, 165, 159, 160, 154, 155, 149, 151, 146, 147, 143, 144, 140, 142, 138, 140, 136, 137, 134, 135, 132, 133],
    "39.1": [190, 189, 183, 181, 174, 171, 164, 162, 156, 154, 148, 147, 142, 142, 137, 137, 132, 133, 128, 130, 125, 126, 123, 124, 121, 122, 119, 121, 117, 119, 116, 117],
    "19.5": [188, 186, 179, 175, 165, 160, 151, 148, 140, 137, 129, 128, 122, 123, 118, 119, 115, 117, 113, 115, 112, 113, 110, 111, 108, 110, 107, 109, 106, 108, 105, 107],
    "no NAD": [204, 206, 203, 205, 202, 204, 201, 203, 200, 202, 199, 201, 198, 201, 199, 200, 198, 200, 197, 199, 197, 199, 196, 198, 196, 199, 196, 198, 195, 197, 195, 197],
}
fit_f = {
    "5000": [202, 200, 199, 198, 197, 195.5, 195, 194, 193, 192, 191],
    "2500": [202, 200.5, 199, 197.5, 196, 194.5, 194, 193, 191.5, 190, 188.5],
    "1250": [196, 194, 192.5, 191, 190, 188.5, 187, 185.6, 184, 182, 180],
    "625": [194, 191.5, 189, 187, 185.5, 182, 179.5, 177.5, 175.5, 173.5, 171.7],
    "313": [195, 192, 189.5, 187, 185, 180.5, 176, 174, 171, 168, 165.2],
    "156.3": [194, 190, 186, 183, 180, 173.5, 165, 159, 154, 149.5, 144],
    "78.1": [193, 188, 182.5, 177, 171.7, 162, 151, 144.5, 140, 135.5, 132],
    "39.1": [192, 186, 178.5, 169, 161, 147.5, 137, 130.5, 125, 120, 115.5],
    "19.5": [191, 180, 169.5, 160.5, 150, 134, 122, 113.5, 107.5, 103, 99.5],
    "no NAD": [204, 203.5, 203, 202, 201.5, 200.5, 199.5, 198.5, 198, 197.5, 197],
}

colors = {"5000": "#1a4cff", "2500": "#ff2a00", "1250": "#14c014", "625": "#c040f0",
          "313": "#ff8c00", "156.3": "#000000", "78.1": "#a87a2c", "39.1": "#00208c",
          "19.5": "#731660", "no NAD": "#f8c89e"}
symbols = {"5000": "circle", "2500": "square", "1250": "triangle-up", "625": "triangle-down",
           "313": "cross", "156.3": "circle-open", "78.1": "square", "39.1": "hexagon",
           "19.5": "hexagon", "no NAD": "star"}
sizes = {"5000": 7, "2500": 8, "1250": 7, "625": 7, "313": 7, "156.3": 9, "78.1": 11,
         "39.1": 10, "19.5": 10, "no NAD": 7}
leg_sizes = {"5000": 5, "2500": 7, "1250": 5, "625": 5, "313": 5, "156.3": 7, "78.1": 9,
             "39.1": 8, "19.5": 8, "no NAD": 5}
draw_order = ["no NAD", "19.5", "39.1", "78.1", "156.3", "313", "625", "1250", "2500", "5000"]


def px(x):
    return (x - OFF) / W


def py(y):
    return 1 - (y - OFF) / H


# times, points, extra times, extra points, fit times, fits, x px span, y px span, x max, y min, x major, x minor
panels = [
    (t_ad, pts_a, t_ad_mid, mid_a, tf_ad, fit_a, (131, 685), (58, 425), 7000, 50, 2000, 200),
    (t_be, pts_b, [], None, tf_be, fit_b, (130, 684), (523, 891), 4000, 100, 1000, 100),
    (t_cf, pts_c, t_cf_mid, mid_c, tf_cf, fit_c, (140, 684), (1023, 1385), 8000, 50, 2000, 200),
    (t_ad, pts_d, t_ad_mid, mid_d, tf_ad, fit_d, (810, 1360), (57, 424), 7000, 50, 2000, 200),
    (t_be, pts_e, [], None, tf_be, fit_e, (808, 1350), (536, 895), 4000, 100, 1000, 100),
    (t_cf, pts_f, t_cf_mid, mid_f, tf_cf, fit_f, (815, 1355), (1029, 1389), 8000, 50, 2000, 200),
]

FONT = "Liberation Sans, Arial, sans-serif"
fig = go.Figure()
layout = {}

for i, (t, pts, tm, mid, tf, fit, xs, ys, xmax, ymin, xdt, xmin_dt) in enumerate(panels):
    n = "" if i == 0 else str(i + 1)
    xa, ya = "x" + n, "y" + n
    for lab in draw_order:
        st = symbols[lab]
        mk = dict(symbol=st, size=sizes[lab], color=colors[lab], line=dict(width=0))
        if st == "circle-open":
            mk["line"] = dict(width=3.5, color=colors[lab])
        xv = list(t) + list(tm)
        yv = list(pts[lab]) + (list(mid[lab]) if mid else [])
        fig.add_trace(go.Scatter(x=xv, y=yv, mode="markers", marker=mk, cliponaxis=False,
                                 xaxis=xa, yaxis=ya, showlegend=False, hoverinfo="skip"))
    for lab in draw_order:
        fig.add_trace(go.Scatter(x=tf, y=fit[lab], mode="lines",
                                 line=dict(color=colors[lab], width=1.2, shape="spline"),
                                 xaxis=xa, yaxis=ya, showlegend=False, hoverinfo="skip"))
    axis_common = dict(showline=True, linecolor="black", linewidth=3, ticks="outside",
                       ticklen=9, tickwidth=3, tickcolor="black", showgrid=False, zeroline=False,
                       tickfont=dict(family=FONT, size=27, color="black", weight="bold"))
    layout["xaxis" + n] = dict(axis_common, domain=[px(xs[0]), px(xs[1])], anchor=ya,
                               range=[0, xmax], tickmode="linear", tick0=0, dtick=xdt,
                               ticklabelstandoff=-8,
                               minor=dict(ticks="outside", dtick=xmin_dt, ticklen=6, tickwidth=2.5,
                                          tickcolor="black", showgrid=False),
                               title=dict(text="time (s)", standoff=15,
                                          font=dict(family=FONT, size=30, color="black", weight="bold")))
    layout["yaxis" + n] = dict(axis_common, domain=[py(ys[1]), py(ys[0])], anchor=xa,
                               range=[ymin, 250], tickmode="linear", tick0=0, dtick=50,
                               ticklabelstandoff=-6,
                               minor=dict(ticks="outside", dtick=5, ticklen=6, tickwidth=2.5,
                                          tickcolor="black", showgrid=False),
                               title=dict(text="FP (mP)", standoff=6,
                                          font=dict(family=FONT, size=35, color="black", weight="bold")))

# legends (one per right-hand panel)
leg_ids = ["legend", "legend2", "legend3"]
for lid in leg_ids:
    for lab in labels:
        fig.add_trace(go.Scatter(x=[None], y=[None], mode="lines+markers", name=lab,
                                 legend=lid, legendgroup=lid + lab, xaxis="x4", yaxis="y4",
                                 line=dict(color=colors[lab], width=1.5),
                                 marker=dict(symbol=symbols[lab], size=leg_sizes[lab], color=colors[lab],
                                             line=dict(width=3 if symbols[lab] == "circle-open" else 0,
                                                       color=colors[lab]))))

leg_common = dict(xanchor="left", yanchor="top", bgcolor="rgba(0,0,0,0)", tracegroupgap=4,
                  font=dict(family=FONT, size=29, color="black"), itemsizing="trace")
layout["legend"] = dict(leg_common, x=px(1388), y=py(51))
layout["legend2"] = dict(leg_common, x=px(1377), y=py(527))
layout["legend3"] = dict(leg_common, x=px(1382), y=py(1022))

annotations = []
titles = [("Olaparib/PARP2", 404, 66), ("Veliparib/PARP2", 425, 534),
          ("Talazoparib/PARP2", 429, 1008), ("Olaparib/PARP2 + HPF1", 1062, 66),
          ("Veliparib/PARP2 + HPF1", 1066, 538), ("Talazoparib/PARP2 + HPF1", 1068, 1008)]
for txt, x, y in titles:
    annotations.append(dict(text=txt, x=px(x), y=py(y), xref="paper", yref="paper",
                            xanchor="center", yanchor="middle", showarrow=False,
                            font=dict(family="Lato, Open Sans, sans-serif", size=45.5, color="black")))
letters = [("a", 15, 55), ("b", 9, 526), ("c", 5, 987), ("d", 690, 56), ("e", 687, 530), ("f", 690, 1005)]
for txt, x, y in letters:
    annotations.append(dict(text=txt, x=px(x), y=py(y), xref="paper", yref="paper",
                            xanchor="left", yanchor="middle", showarrow=False,
                            font=dict(family=FONT, size=78, color="black")))
for y in [27, 517, 1010]:
    annotations.append(dict(text="<u>nM inhibitor</u>", x=px(1528), y=py(y), xref="paper", yref="paper",
                            xanchor="right", yanchor="middle", showarrow=False,
                            font=dict(family=FONT, size=33, color="black")))

fig.update_layout(width=W, height=H, margin=dict(l=0, r=0, t=0, b=0, autoexpand=False),
                  paper_bgcolor="white", plot_bgcolor="white",
                  font=dict(family=FONT, color="black"), annotations=annotations, **layout)

fig.write_html("out.html")
